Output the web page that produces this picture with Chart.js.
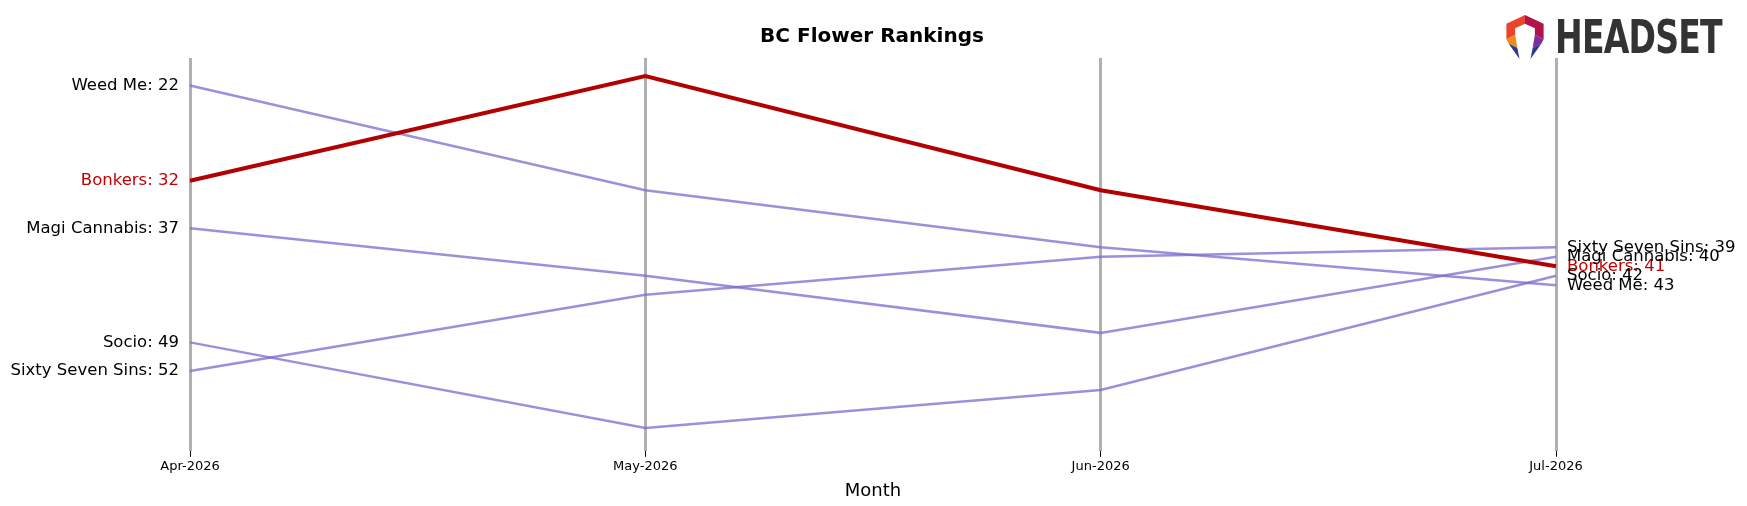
<!DOCTYPE html>
<html>
<head>
<meta charset="utf-8">
<script src="https://cdn.jsdelivr.net/npm/chart.js@4"></script>
<style>
  body { margin: 0; background: #fff; }
  #wrap { width: 1747px; height: 506px; position: relative; }
  #logo { position: absolute; left: 1555px; top: 10px; font: bold 46px "DejaVu Sans Condensed", "DejaVu Sans"; color: #333; letter-spacing: -1px; transform: scaleX(0.8); transform-origin: left; }
  #mark { position: absolute; left: 1502px; top: 15px; }
</style>
</head>
<body>
<div id="wrap">
  <canvas id="bump" width="1747" height="506"></canvas>
  <svg id="mark" width="46" height="44" viewBox="0 0 42 40">
    <polygon points="21,0 38,8 38,22 30,18 30,12 21,8" fill="#b3124a"/>
    <polygon points="21,0 4,8 4,22 12,18 12,12 21,8" fill="#e8452c"/>
    <polygon points="4,22 12,18 14,30 6,26" fill="#f08a1c"/>
    <polygon points="38,22 30,18 28,30 36,26" fill="#7b2ea0"/>
    <polygon points="6,26 14,30 16,40" fill="#2a3990"/>
    <polygon points="36,26 28,30 26,40" fill="#2a3990"/>
  </svg>
  <div id="logo">HEADSET</div>
</div>
<script>
const months = ['Apr-2026', 'May-2026', 'Jun-2026', 'Jul-2026'];
const brands = ['Weed Me', 'Bonkers', 'Magi Cannabis', 'Socio', 'Sixty Seven Sins'];
const weedMe = [22, 33, 39, 43];
const bonkers = [32, 21, 33, 41];
const magi = [37, 42, 48, 40];
const socio = [49, 58, 54, 42];
const sixtySeven = [52, 44, 40, 39];
const seriesData = [weedMe, bonkers, magi, socio, sixtySeven];
const highlight = 'Bonkers';

const datasets = brands.map((b, i) => ({
    label: b,
    data: seriesData[i],
    borderColor: b === highlight ? '#b30000' : 'rgba(125,105,205,0.75)',
    borderWidth: b === highlight ? 4 : 2.5,
    pointRadius: 0,
    tension: 0,
    order: b === highlight ? 0 : 1
}));

const endLabels = {
    id: 'endLabels',
    afterDatasetsDraw(chart) {
        const ctx = chart.ctx;
        const x = chart.scales.x, y = chart.scales.y;
        ctx.save();
        ctx.font = '16.5px "DejaVu Sans"';
        ctx.textBaseline = 'middle';
        chart.data.datasets.forEach(ds => {
            ctx.fillStyle = ds.label === highlight ? '#c00000' : '#000';
            const first = ds.data[0], last = ds.data[ds.data.length - 1];
            ctx.textAlign = 'right';
            ctx.fillText(ds.label + ': ' + first, x.getPixelForValue(0) - 11, y.getPixelForValue(first));
            ctx.textAlign = 'left';
            ctx.fillText(ds.label + ': ' + last, x.getPixelForValue(months.length - 1) + 11, y.getPixelForValue(last));
        });
        ctx.font = 'bold 20px "DejaVu Sans"';
        ctx.textAlign = 'center';
        ctx.fillStyle = '#000';
        ctx.fillText('BC Flower Rankings', 872, 37);
        ctx.restore();
    }
};

new Chart(document.getElementById('bump'), {
    type: 'line',
    data: { labels: months, datasets },
    options: {
        responsive: false,
        animation: false,
        layout: { padding: { left: 190, right: 191, top: 58, bottom: 0 } },
        plugins: { legend: { display: false }, title: { display: false }, tooltip: { enabled: false } },
        scales: {
            y: { reverse: true, min: 19.1, max: 60.4, display: false },
            x: {
                offset: false,
                grid: { color: '#b0b0b0', lineWidth: 3, drawTicks: true, tickLength: 6, tickColor: '#000', tickWidth: 1 },
                border: { display: false },
                ticks: { color: '#000', font: { size: 13, family: 'DejaVu Sans' }, maxRotation: 0, padding: 2 },
                title: { display: true, text: 'Month', color: '#000', font: { size: 18, family: 'DejaVu Sans' }, padding: { top: 4 } }
            }
        }
    },
    plugins: [endLabels]
});
</script>
</body>
</html>
